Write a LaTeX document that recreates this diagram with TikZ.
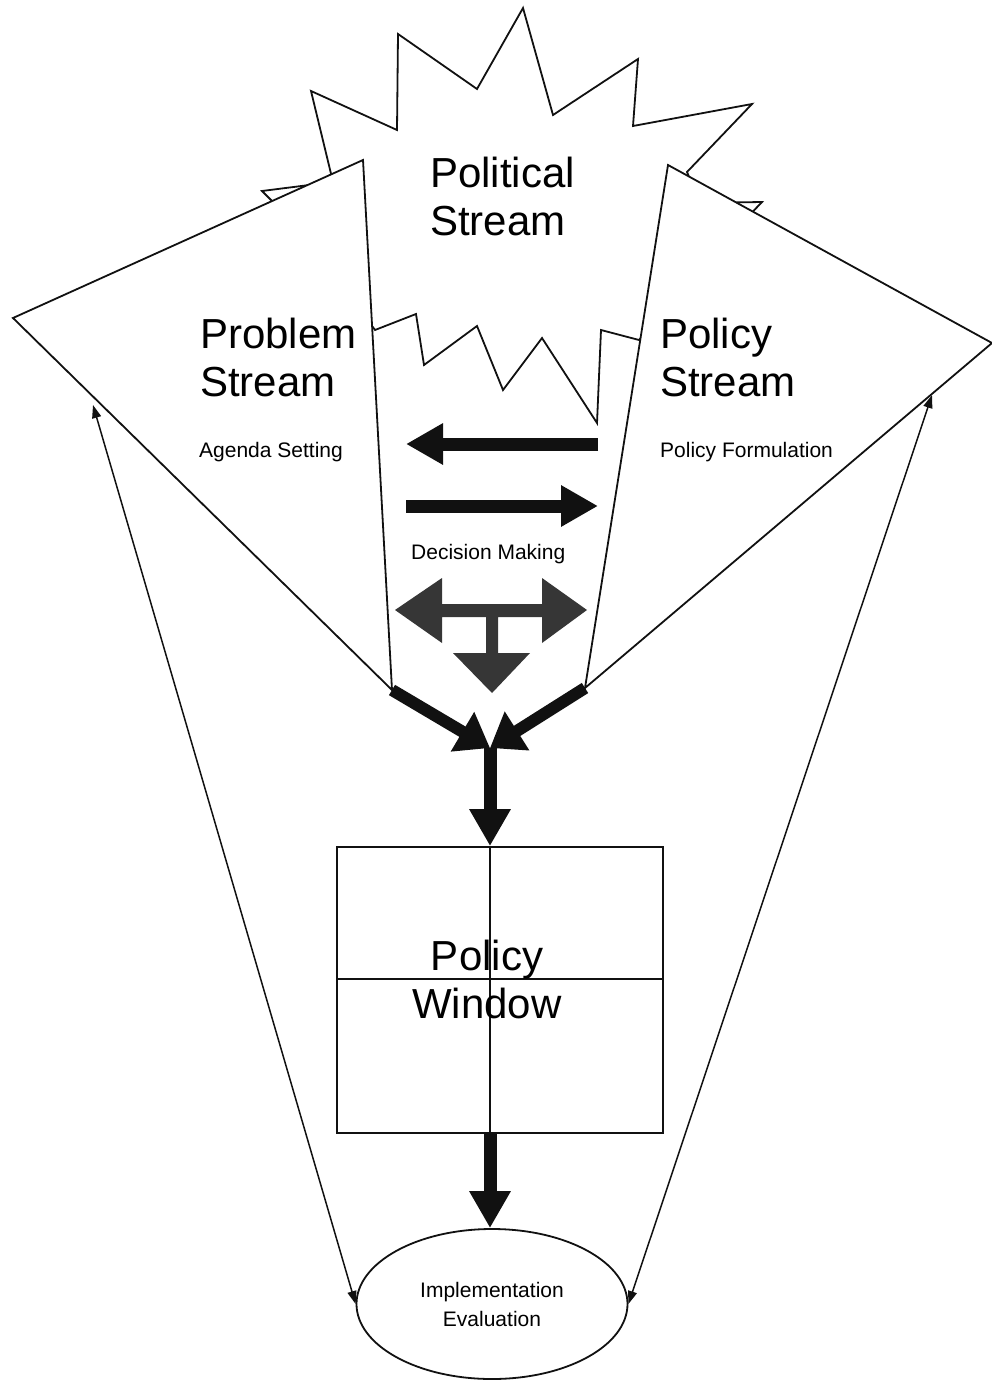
\documentclass[tikz,border=0pt]{standalone}
\usepackage{fontspec}
\setmainfont{Liberation Sans}
\usetikzlibrary{arrows.meta,shapes.geometric}
\definecolor{Ink}{HTML}{111111}
\definecolor{TeeGrey}{HTML}{363636}
\tikzset{
  outline/.style={draw=Ink,line width=1.8pt,fill=white,line join=miter},
  streamtext/.style={inner sep=0pt,align=left,font=\fontsize{42}{48}\selectfont},
  notetext/.style={inner sep=0pt,font=\fontsize{21}{29}\selectfont},
  fatarrow/.style={draw=Ink,line width=13pt,-{Triangle[length=37pt,width=39pt]}},
  mergearrow/.style={draw=Ink,line width=12pt,-{Triangle[length=32pt,width=44pt]}},
  feedback/.style={draw=Ink,line width=1.5pt,
    {Triangle[length=13pt,width=9pt]}-{Triangle[length=13pt,width=9pt]}}
}

\begin{document}
\begin{tikzpicture}[x=1pt,y=-1pt]
\useasboundingbox (0,0) rectangle (992,1380);

% political stream (starburst, partly hidden)
\draw[outline] (523,8) -- (553,115) -- (638,59) -- (633,126) -- (752,104)
  -- (687,172) -- (700,203) -- (762,202) -- (740,225) -- (639,340)
  -- (601,330) -- (597,423) -- (542,338) -- (503,390) -- (477,326)
  -- (424,365) -- (416,314) -- (375,330) -- (300,229) -- (262,191)
  -- (333,182) -- (311,91) -- (397,130) -- (398,34) -- (477,89) -- cycle;

% problem and policy streams
\coordinate (probleft) at (13,318);
\coordinate (probtop) at (363,160);
\coordinate (probbot) at (392,690);
\coordinate (poltop) at (668,165);
\coordinate (polright) at (992,343);
\coordinate (polbot) at (585,688);
\draw[outline] (probleft) -- (probtop) -- (probbot) -- cycle;
\draw[outline] (poltop) -- (polright) -- (polbot) -- cycle;

\node[streamtext,anchor=north west] (political) at (430,157) {Political\\Stream};
\node[streamtext,anchor=north west] (problem) at (200,318) {Problem\\Stream};
\node[streamtext,anchor=north west] (policy) at (660,318) {Policy\\Stream};
\node[notetext,anchor=base west] (agenda) at (199,457) {Agenda Setting};
\node[notetext,anchor=base west] (formulation) at (660,457) {Policy Formulation};
\node[notetext,anchor=base west] (decision) at (411,559) {Decision Making};

% exchange arrows
\coordinate (backfrom) at (598,444);
\coordinate (backto) at (406,444);
\coordinate (forthfrom) at (406,506);
\coordinate (forthto) at (598,506);
\draw[fatarrow] (backfrom) -- (backto);
\draw[fatarrow] (forthfrom) -- (forthto);

% decision T-arrow
\fill[TeeGrey] (395,610) -- (442,578) -- (442,604) -- (542,604) -- (542,578)
  -- (587,610) -- (542,643) -- (542,617) -- (498,617) -- (498,653)
  -- (530,653) -- (492,693) -- (453,653) -- (486,653) -- (486,617)
  -- (442,617) -- (442,643) -- cycle;

% window and outcome
\node[draw=Ink,line width=1.8pt,minimum width=326pt,minimum height=286pt,
  inner sep=0pt] (window) at (500,990) {};
\coordinate (axis) at (490,979);
\draw[Ink,line width=1.6pt] (window.north -| axis) -- (window.south -| axis);
\draw[Ink,line width=1.6pt] (window.west |- axis) -- (window.east |- axis);
\node[streamtext,align=center,anchor=north] (windowtext) at (487,940) {Policy\\Window};

\node[ellipse,draw=Ink,line width=1.8pt,minimum width=271pt,minimum height=150pt,
  inner sep=0pt,align=center,font=\fontsize{21}{29}\selectfont]
  (impl) at (492,1304) {Implementation\\Evaluation};

\coordinate (merge) at (490,748);
\draw[mergearrow] (probbot) -- (merge);
\draw[mergearrow] (polbot) -- (merge);
\draw[fatarrow] (merge) -- (window.north -| axis);
\draw[fatarrow] (window.south -| axis) -- (impl.north -| axis);

% feedback loops
\coordinate (fbleft) at (93,405);
\coordinate (fbright) at (932,395);
\draw[feedback] (fbleft) -- (impl.west);
\draw[feedback] (fbright) -- (impl.east);
\end{tikzpicture}
\end{document}
